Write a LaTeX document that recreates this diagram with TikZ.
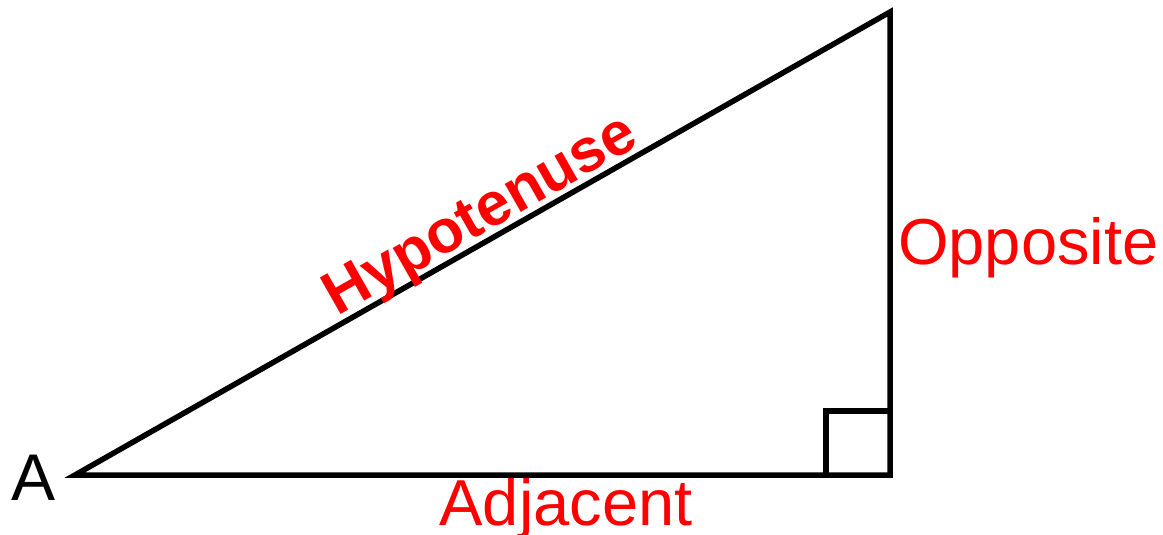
\documentclass[tikz,border=0pt]{standalone}
\usepackage{fontspec}
\setmainfont{Liberation Sans}
\usetikzlibrary{positioning,calc}
\definecolor{lblred}{RGB}{255,0,0}
\tikzset{
  side/.style={black, line width=5.5pt, line join=miter},
  slab/.style={font=\fontsize{65}{70}\selectfont, text=lblred, inner sep=0pt},
  hlab/.style={font=\fontsize{61}{66}\selectfont\bfseries, text=lblred, inner sep=0pt},
  vlab/.style={font=\fontsize{66}{70}\selectfont, text=black, inner sep=0pt},
}
\begin{document}
\begin{tikzpicture}[x=1pt,y=-1pt]
  \useasboundingbox (0,0) rectangle (1163,535);
  \coordinate (A) at (75,475);
  \coordinate (B) at (890,475);
  \coordinate (C) at (890,12);
  \draw[side] (A) -- (B) -- (C) -- cycle;
  \draw[side] ($(B)+(-64,0)$) |- ($(B)+(0,-64)$);
  \node[vlab, anchor=base west] (lblA) at (11,500) {A};
  \node[slab, anchor=base] (adj) at (566,525) {Adjacent};
  \node[slab, anchor=base west] (opp) at (898,264) {Opposite};
  \path (A) -- (C) node[hlab, pos=0.513, sloped, anchor=base, yshift=8pt] (hyp) {Hypotenuse};
\end{tikzpicture}
\end{document}
